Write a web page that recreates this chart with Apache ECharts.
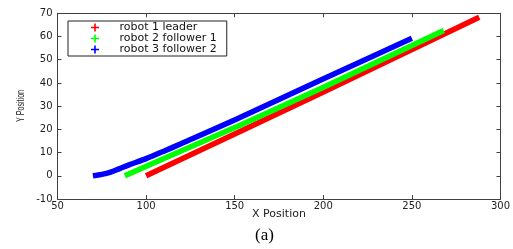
<!DOCTYPE html>
<html>
<head>
<meta charset="utf-8">
<script src="https://cdn.jsdelivr.net/npm/echarts@6/dist/echarts.min.js"></script>
<style>
  html, body { margin: 0; padding: 0; background: #fff; }
  #chart { width: 513px; height: 249px; }
</style>
</head>
<body>
<div id="chart"></div>
<script>
// robot paths
const seriesNames = ["robot 1 leader", "robot 2 follower 1", "robot 3 follower 2"];
const seriesColors = ["#ff0000", "#00ff00", "#0000ff"];
const leader = [[100, 0], [153, 19.1], [198, 35.3], [288, 68.3]];
const follower1 = [[88, 0], [112, 8.1], [153, 21.8], [198, 37.4], [268, 62.6]];
const follower2 = [[70, 0], [75, 0.6], [80, 1.6], [85, 3.1], [90, 4.6], [100, 7.4], [110, 10.6], [120, 13.9], [153, 25.1], [198, 41.1], [250, 59.2]];
const xTicks = { min: 50, max: 300, step: 50 };
const yTicks = { min: -10, max: 70, step: 10 };

const chart = echarts.init(document.getElementById("chart"), null, { renderer: "canvas" });

const axisColor = "#404040";
const tickFont = { fontFamily: "DejaVu Sans", fontSize: 10, color: "#222" };
const star = "path://M4,0h2v4h4v2h-4v4h-2v-4h-4v-2h4z";

function axisBase(extra) {
  return Object.assign({
    type: "value",
    axisLine: { show: true, onZero: false, lineStyle: { color: axisColor, width: 1 } },
    axisTick: { show: true, inside: true, length: 4, lineStyle: { color: axisColor } },
    splitLine: { show: false },
  }, extra);
}

const option = {
  animation: false,
  backgroundColor: "#fff",
  grid: { left: 57.5, right: 12.3, top: 13.3, bottom: 50, containLabel: false },
  xAxis: [
    axisBase({
      min: xTicks.min, max: xTicks.max, interval: xTicks.step, position: "bottom",
      axisLabel: Object.assign({ margin: 2 }, tickFont),
      name: "X Position", nameLocation: "middle", nameGap: 10, nameMoveOverlap: false,
      nameTextStyle: { fontFamily: "DejaVu Sans", fontSize: 11, color: "#222" },
    }),
    axisBase({
      min: xTicks.min, max: xTicks.max, interval: xTicks.step, position: "top",
      axisLabel: { show: false },
    }),
  ],
  yAxis: [
    axisBase({
      min: yTicks.min, max: yTicks.max, interval: yTicks.step, position: "left",
      axisLabel: Object.assign({ margin: 5 }, tickFont),
    }),
    axisBase({
      min: yTicks.min, max: yTicks.max, interval: yTicks.step, position: "right",
      axisLabel: { show: false },
    }),
  ],
  legend: {
    left: 68, top: 21,
    orient: "vertical",
    backgroundColor: "#fff",
    borderColor: "#222", borderWidth: 1, borderRadius: 0,
    padding: [1, 10, 1, 23],
    itemWidth: 9, itemHeight: 8, itemGap: 0,
    icon: star,
    textStyle: { fontFamily: "DejaVu Sans", fontSize: 11, lineHeight: 10, color: "#111", padding: [0, 0, 0, 15] },
    data: seriesNames,
  },
  series: [leader, follower1, follower2].map((d, i) => ({
    name: seriesNames[i],
    type: "line",
    data: d,
    showSymbol: false,
    symbol: "none",
    smooth: i === 2 ? 0.3 : false,
    color: seriesColors[i],
    lineStyle: { width: 5.5, color: seriesColors[i] },
    z: 2 + i,
  })),
  graphic: [
    {
      type: "text",
      x: 21, y: 106,
      rotation: Math.PI / 2,
      scaleX: 0.65,
      style: { text: "Y Position", font: "11px 'Liberation Sans'", fill: "#222", align: "center", verticalAlign: "middle" },
    },
    {
      type: "text",
      left: 255, top: 227,
      style: { text: "(a)", font: "17px 'Liberation Serif'", fill: "#000" },
    },
  ],
};

chart.setOption(option);
</script>
</body>
</html>
